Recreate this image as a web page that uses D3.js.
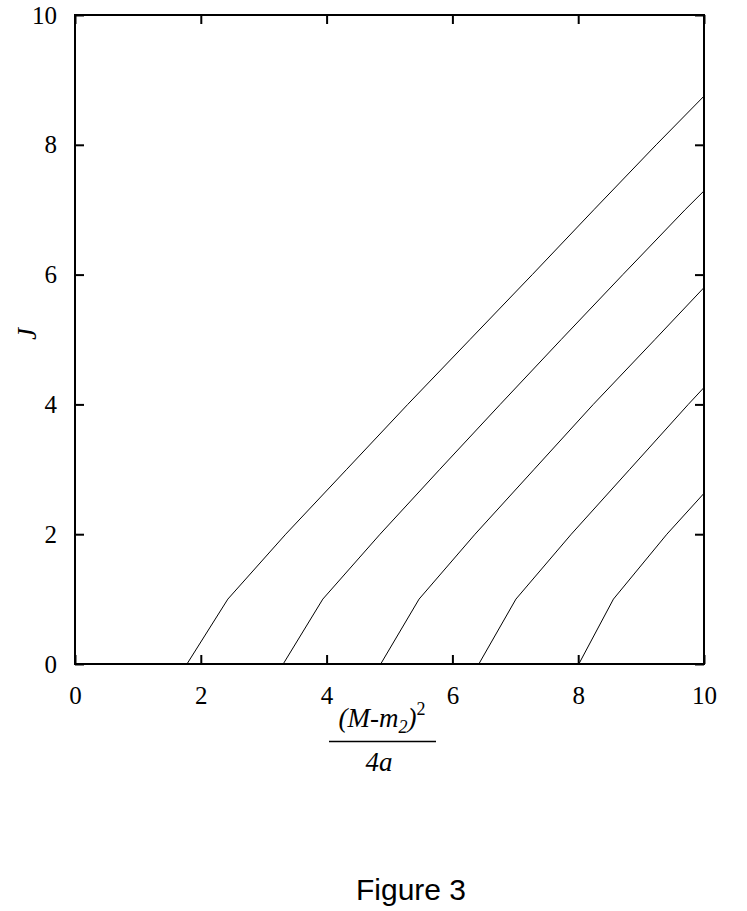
<!DOCTYPE html>
<html><head><meta charset="utf-8">
<script src="https://cdn.jsdelivr.net/npm/d3@7"></script>
<style>body{margin:0;background:#fff}</style>
</head><body>
<svg id="chart" width="747" height="911"></svg>
<script>
// Data: trajectories, J (integer vertices) vs x = (M-m2)^2/(4a)
const curve1 = [[1.78,0],[2.43,1],[3.35,2],[4.32,3],[5.29,4],[6.28,5],[7.27,6],[8.25,7],[9.24,8],[10,8.75]];
const curve2 = [[3.31,0],[3.94,1],[4.85,2],[5.80,3],[6.76,4],[7.73,5],[8.71,6],[9.70,7],[10,7.29]];
const curve3 = [[4.86,0],[5.47,1],[6.36,2],[7.30,3],[8.24,4],[9.22,5],[10,5.80]];
const curve4 = [[6.42,0],[7.01,1],[7.89,2],[8.82,3],[9.75,4],[10,4.26]];
const curve5 = [[8.01,0],[8.56,1],[9.41,2],[10,2.63]];
const curves = [curve1, curve2, curve3, curve4, curve5];
const xTicks = [0,2,4,6,8,10];
const yTicks = [0,2,4,6,8,10];

const svg = d3.select("#chart");
const L = 75, R = 704, T = 15, B = 664;
const x = d3.scaleLinear().domain([0,10]).range([L,R]);
const y = d3.scaleLinear().domain([0,10]).range([B,T]);
const serif = "'Liberation Serif','Times New Roman',serif";

// curves
const line = d3.line().x(d=>x(d[0])).y(d=>y(d[1]));
svg.append("g").selectAll("path").data(curves).join("path")
  .attr("d", line).attr("fill","none").attr("stroke","#000").attr("stroke-width",1);

// ticks (inward, all four sides)
const tl = 9;
const axB = svg.append("g").attr("transform",`translate(0,${B})`)
  .call(d3.axisBottom(x).tickValues(xTicks).tickSizeInner(-tl).tickSizeOuter(0).tickPadding(22));
const axT = svg.append("g").attr("transform",`translate(0,${T})`)
  .call(d3.axisTop(x).tickValues(xTicks).tickSizeInner(-tl).tickSizeOuter(0).tickFormat(""));
const axL = svg.append("g").attr("transform",`translate(${L},0)`)
  .call(d3.axisLeft(y).tickValues(yTicks).tickSizeInner(-tl).tickSizeOuter(0).tickPadding(18));
const axR = svg.append("g").attr("transform",`translate(${R},0)`)
  .call(d3.axisRight(y).tickValues(yTicks).tickSizeInner(-tl).tickSizeOuter(0).tickFormat(""));
[axB,axT,axL,axR].forEach(a=>{
  a.attr("font-size",25).attr("font-family",serif);
  a.select(".domain").remove();
  a.selectAll(".tick line").attr("stroke","#000").attr("stroke-width",2);
  a.selectAll("text").attr("fill","#000");
});
axB.selectAll("text").attr("dy","0.71em");

// frame
svg.append("rect").attr("x",L).attr("y",T).attr("width",R-L).attr("height",B-T)
  .attr("fill","none").attr("stroke","#000").attr("stroke-width",2);

// x label as fraction
const xl = svg.append("g").attr("font-family",serif).attr("font-style","italic").attr("font-size",27).attr("fill","#000");
const num = xl.append("text").attr("x",382).attr("y",727).attr("text-anchor","middle");
num.append("tspan").text("(M-m");
num.append("tspan").text("2").attr("font-size",18).attr("dy",6);
num.append("tspan").text(")").attr("dy",-6);
num.append("tspan").text("2").attr("font-size",18).attr("dy",-12).attr("font-style","normal");
svg.append("line").attr("x1",329).attr("x2",436).attr("y1",741.5).attr("y2",741.5).attr("stroke","#000").attr("stroke-width",1.5);
xl.append("text").attr("x",379).attr("y",771).attr("text-anchor","middle").text("4a");

// y label
svg.append("text").attr("transform","translate(36,334) rotate(-90)").attr("text-anchor","middle")
  .attr("font-family",serif).attr("font-style","italic").attr("font-size",27).text("J");

// caption
svg.append("text").attr("x",411).attr("y",900).attr("text-anchor","middle")
  .attr("font-family","'Liberation Sans',Arial,sans-serif").attr("font-size",30).text("Figure 3");
</script>
</body></html>
